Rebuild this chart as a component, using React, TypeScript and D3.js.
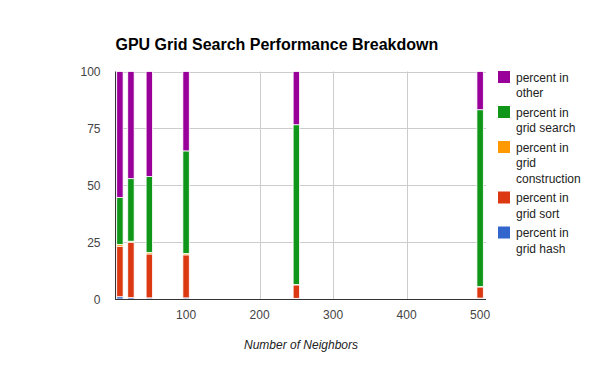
import React, { useRef, useEffect } from "react";
import * as d3 from "d3";

const neighbors = [10, 25, 50, 100, 250, 500];
const gridHash = [1.0, 0.6, 0.5, 0.5, 0.3, 0.4];
const gridSort = [22.2, 24.4, 19.3, 18.9, 5.9, 4.9];
const gridConstruction = [0.8, 0.4, 0.7, 0.6, 0.2, 0.2];
const gridSearch = [20.6, 27.5, 33.3, 45.1, 70.2, 77.7];
const other = [55.4, 47.1, 46.2, 34.9, 23.4, 16.8];

const seriesNames = [
  "percent in grid hash",
  "percent in grid sort",
  "percent in grid construction",
  "percent in grid search",
  "percent in other",
];
const seriesColors = ["#3366cc", "#dc3912", "#ff9900", "#109618", "#990099"];
const legendLines = [
  ["percent in", "grid hash"],
  ["percent in", "grid sort"],
  ["percent in", "grid", "construction"],
  ["percent in", "grid search"],
  ["percent in", "other"],
];
const xTicks = [100, 200, 300, 400, 500];
const yTicks = [0, 25, 50, 75, 100];

const W = 600;
const H = 371;
const left = 115.5;
const right = 486;
const top = 71.5;
const bottom = 299;

export default function App() {
  const ref = useRef<SVGSVGElement>(null);

  useEffect(() => {
    const svg = d3.select(ref.current);
    svg.selectAll("*").remove();
    const font = "Arial, 'Liberation Sans', sans-serif";

    const x = d3.scaleLinear().domain([4, 508]).range([left, right]);
    const y = d3.scaleLinear().domain([0, 100]).range([bottom, top]);

    const rows = neighbors.map((n, i) => ({
      n,
      s0: gridHash[i],
      s1: gridSort[i],
      s2: gridConstruction[i],
      s3: gridSearch[i],
      s4: other[i],
    }));
    const stack = d3.stack<any>().keys(["s0", "s1", "s2", "s3", "s4"])(rows);

    // gridlines
    svg.append("g")
      .selectAll("line.h")
      .data(yTicks)
      .join("line")
      .attr("x1", left).attr("x2", right)
      .attr("y1", (d) => Math.round(y(d)) + 0.5).attr("y2", (d) => Math.round(y(d)) + 0.5)
      .attr("stroke", "#cccccc");
    svg.append("g")
      .selectAll("line.v")
      .data(xTicks)
      .join("line")
      .attr("x1", (d) => Math.round(x(d)) + 0.5).attr("x2", (d) => Math.round(x(d)) + 0.5)
      .attr("y1", top).attr("y2", bottom)
      .attr("stroke", "#cccccc");

    // bars
    const bw = 6.4;
    stack.forEach((layer, k) => {
      svg.append("g")
        .selectAll("rect")
        .data(layer)
        .join("rect")
        .attr("x", (d: any) => x(d.data.n) - bw / 2)
        .attr("width", bw)
        .attr("y", (d: any) => y(d[1]))
        .attr("height", (d: any) => Math.max(0, y(d[0]) - y(d[1])))
        .attr("fill", seriesColors[k])
        .attr("stroke", "#ffffff")
        .attr("stroke-width", 0.8);
    });

    // axes lines
    svg.append("line")
      .attr("x1", left).attr("x2", right)
      .attr("y1", bottom + 0.5).attr("y2", bottom + 0.5)
      .attr("stroke", "#333333");
    svg.append("line")
      .attr("x1", left).attr("x2", left)
      .attr("y1", top).attr("y2", bottom + 1)
      .attr("stroke", "#333333");

    // tick labels
    svg.append("g")
      .selectAll("text")
      .data(yTicks)
      .join("text")
      .attr("x", left - 15)
      .attr("y", (d) => y(d) + 4.5)
      .attr("text-anchor", "end")
      .attr("font-family", font)
      .attr("font-size", 12)
      .attr("fill", "#444444")
      .text((d) => d);
    svg.append("g")
      .selectAll("text")
      .data(xTicks)
      .join("text")
      .attr("x", (d) => x(d))
      .attr("y", bottom + 20)
      .attr("text-anchor", "middle")
      .attr("font-family", font)
      .attr("font-size", 12)
      .attr("fill", "#444444")
      .text((d) => d);

    // titles
    svg.append("text")
      .attr("x", left)
      .attr("y", 50)
      .attr("font-family", font)
      .attr("font-size", 16)
      .attr("font-weight", "bold")
      .attr("fill", "#000000")
      .text("GPU Grid Search Performance Breakdown");
    svg.append("text")
      .attr("x", 301)
      .attr("y", 349)
      .attr("text-anchor", "middle")
      .attr("font-family", font)
      .attr("font-size", 12)
      .attr("font-style", "italic")
      .attr("fill", "#222222")
      .text("Number of Neighbors");

    // legend (reverse stack order)
    const lineH = 15.5;
    let ly = 71;
    for (let k = seriesNames.length - 1; k >= 0; k--) {
      const g = svg.append("g");
      g.append("rect")
        .attr("x", 498).attr("y", ly)
        .attr("width", 12).attr("height", 12)
        .attr("fill", seriesColors[k]);
      legendLines[k].forEach((t, j) => {
        g.append("text")
          .attr("x", 516)
          .attr("y", ly + 10.5 + j * lineH)
          .attr("font-family", font)
          .attr("font-size", 12)
          .attr("fill", "#222222")
          .text(t);
      });
      ly += legendLines[k].length * lineH + 4;
    }
  }, []);

  return (
    <svg
      ref={ref}
      width={W}
      height={H}
      style={{ position: "absolute", left: 0, top: 0, background: "#fff" }}
    />
  );
}
